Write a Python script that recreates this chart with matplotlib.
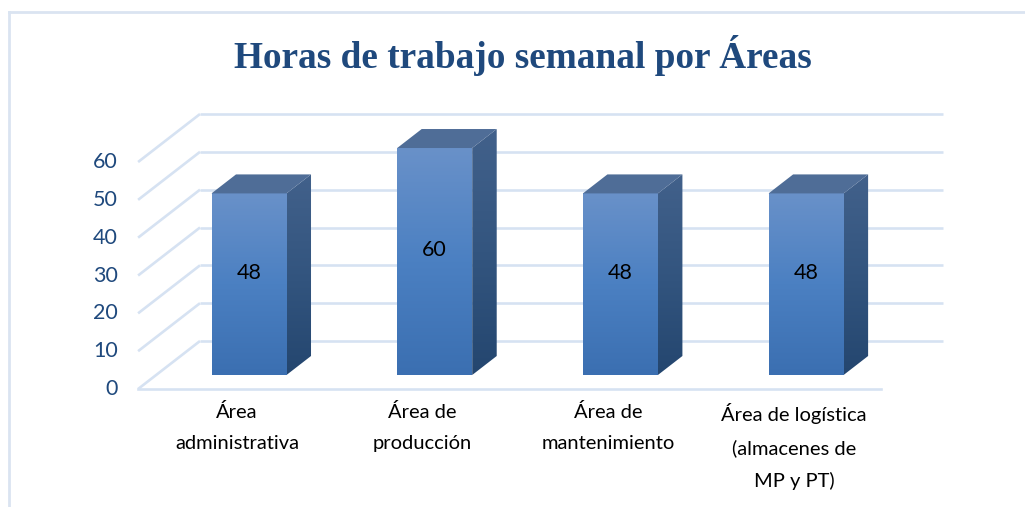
import numpy as np
import matplotlib.pyplot as plt
from matplotlib.patches import Polygon
from matplotlib.lines import Line2D
from matplotlib.colors import LinearSegmentedColormap

# datos
categorias = ['Área\nadministrativa', 'Área de\nproducción', 'Área de\nmantenimiento',
              'Área de logística\n(almacenes de\nMP y PT)']
horas = [48, 60, 48, 48]
ticks = [0, 10, 20, 30, 40, 50, 60]
titulo = 'Horas de trabajo semanal por Áreas'

W, H = 1025, 507
fig = plt.figure(figsize=(W / 100, H / 100), dpi=100)
ax = fig.add_axes([0, 0, 1, 1])

# escala: 1 categoria = 185.7 px, 1 hora = 3.783 px
px_x = 1 / 185.7
px_y = 1 / 3.783
x0, y0 = 249, 375
ax.set_xlim(-x0 * px_x, (W - x0) * px_x)
ax.set_ylim(-(H - y0) * px_y, y0 * px_y)
ax.axis('off')


def shift(z):
    # desplazamiento de profundidad (z en px)
    return 1.29 * z * px_x, z * px_y


grid_col = '#D6E2F2'
lw_grid = 1.9
z_front, z_back, z_bar = -14, 34, 19
x_left, x_right = -0.5, len(categorias) - 0.5

# pared de fondo y lineas de la pared lateral
for v in ticks:
    bx, by = shift(z_back)
    fx, fy = shift(z_front)
    ax.plot([x_left + bx, x_right + bx], [v + by, v + by], color=grid_col, lw=lw_grid,
            solid_capstyle='butt', zorder=1)
    ax.plot([x_left + fx, x_left + bx], [v + fy, v + by], color=grid_col, lw=lw_grid,
            solid_capstyle='butt', zorder=1)
    ax.text(x_left + fx - 20 * px_x, v + fy, str(v), ha='right', va='center',
            fontsize=15.5, color='#1F497D', family='Lato')
# borde frontal del piso
fx, fy = shift(z_front)
ax.plot([x_left + fx, x_right + fx], [fy, fy], color=grid_col, lw=lw_grid, zorder=1)

front_cmap = LinearSegmentedColormap.from_list('f', ['#3B6FB1', '#4B80C2', '#6991C9'])
side_cmap = LinearSegmentedColormap.from_list('s', ['#24466F', '#33557F', '#42618B'])
grad = np.linspace(0, 1, 256).reshape(-1, 1)

hw = 37.5 * px_x
dx, dy = shift(z_bar)
for i, v in enumerate(horas):
    # cara frontal
    front = Polygon([(i - hw, 0), (i + hw, 0), (i + hw, v), (i - hw, v)], closed=True,
                    facecolor='none', edgecolor='none')
    ax.add_patch(front)
    im = ax.imshow(grad, cmap=front_cmap, origin='lower', aspect='auto',
                   extent=[i - hw, i + hw, 0, v], zorder=3)
    im.set_clip_path(front)
    # cara lateral
    side = Polygon([(i + hw, 0), (i + hw + dx, dy), (i + hw + dx, v + dy), (i + hw, v)],
                   closed=True, facecolor='none', edgecolor='none')
    ax.add_patch(side)
    im2 = ax.imshow(grad, cmap=side_cmap, origin='lower', aspect='auto',
                    extent=[i + hw, i + hw + dx, 0, v + dy], zorder=3)
    im2.set_clip_path(side)
    # cara superior
    top = Polygon([(i - hw, v), (i + hw, v), (i + hw + dx, v + dy), (i - hw + dx, v + dy)],
                  closed=True, facecolor='#4F6D97', edgecolor='none', zorder=3)
    ax.add_patch(top)
    ax.text(i, v / 2 + 3, str(v), ha='center', va='center', fontsize=15.5,
            color='black', family='Lato', zorder=4)

# etiquetas de categorias
for i, c in enumerate(categorias):
    ax.text(i - 12 * px_x, -28 * px_y, c, ha='center', va='top', fontsize=14.5,
            color='black', family='Lato', linespacing=2.0)

fig.text(523 / W, 1 - 56 / H, titulo, ha='center', va='center',
         family='Liberation Serif', weight='bold', fontsize=26.8, color='#1F497D')

# marco del grafico
fig.add_artist(Line2D([9 / W, 9 / W], [0, 1 - 12 / H], transform=fig.transFigure,
                      color='#DAE4F1', lw=2))
fig.add_artist(Line2D([9 / W, 1], [1 - 12 / H, 1 - 12 / H], transform=fig.transFigure,
                      color='#DAE4F1', lw=2))

fig.savefig('out.png', dpi=100)
